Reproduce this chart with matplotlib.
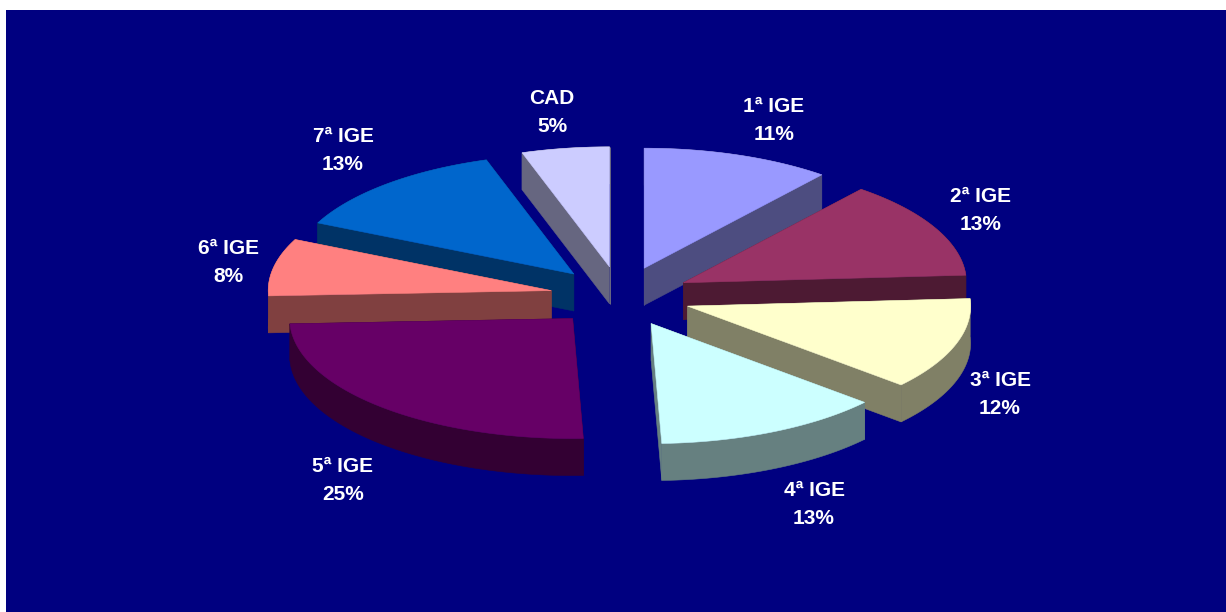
# -*- coding: utf-8 -*-
import numpy as np
import matplotlib
matplotlib.use("Agg")
import matplotlib.pyplot as plt
from matplotlib.patches import Polygon

# data
labels = ["1ª IGE", "2ª IGE", "3ª IGE", "4ª IGE", "5ª IGE", "6ª IGE", "7ª IGE", "CAD"]
values = [10.8, 13.2, 12.4, 13.0, 24.9, 7.7, 13.0, 5.0]
colors = ["#9999FF", "#993366", "#FFFFCC", "#CCFFFF", "#660066", "#FF8080", "#0066CC", "#CCCCFF"]
sides = ["#4D4D80", "#4D1A33", "#808066", "#668080", "#330033", "#804040", "#003366", "#666680"]

# layout, in pixels of the picture
W, H = 1226, 612
cx, cy = 620.6, 296.5
rx, ry = 283.0, 120.0
explode = 0.25
depth = 37.0
label_xy = [(774, 120), (981, 211), (1000, 395), (814, 504), (343, 481), (228, 262), (343, 151), (552, 113)]

fig = plt.figure(figsize=(W / 100, H / 100), dpi=100, facecolor="white")
ax = fig.add_axes([6 / W, 0, (W - 6) / W, (H - 10) / H])
ax.set_xlim(6, W)
ax.set_ylim(H, 10)
ax.set_facecolor("#000080")
ax.set_xticks([])
ax.set_yticks([])
for s in ax.spines.values():
    s.set_visible(False)

def extrude(px, py, color):
    # one side face, pushed down by the pie depth
    pts = np.r_[np.c_[px, py], np.c_[px[::-1], py[::-1] + depth]]
    ax.add_patch(Polygon(pts, closed=True, facecolor=color, edgecolor=color, linewidth=0.4))

# slices start at 12 o'clock and go clockwise
edges = np.cumsum([0] + values) / sum(values) * 2 * np.pi
slices = []
for i in range(len(values)):
    t = np.linspace(edges[i], edges[i + 1], 80)
    mid = (edges[i] + edges[i + 1]) / 2
    x0 = cx + explode * rx * np.sin(mid)
    y0 = cy - explode * ry * np.cos(mid)
    slices.append((y0, i, x0, x0 + rx * np.sin(t), y0 - ry * np.cos(t)))

# back to front
for y0, i, x0, x, y in sorted(slices, key=lambda q: q[0]):
    extrude(np.array([x0, x[0]]), np.array([y0, y[0]]), sides[i])
    extrude(np.array([x0, x[-1]]), np.array([y0, y[-1]]), sides[i])
    extrude(x, y, sides[i])
    ax.add_patch(Polygon(np.c_[np.r_[x0, x], np.r_[y0, y]], closed=True,
                         facecolor=colors[i], edgecolor=colors[i], linewidth=0.4))

for i in range(len(values)):
    ax.text(label_xy[i][0], label_xy[i][1], "%s\n%d%%" % (labels[i], round(values[i])),
            color="white", fontsize=15, fontweight="bold", family="Liberation Sans",
            ha="center", va="center", linespacing=1.6)

fig.savefig("out.png", dpi=100, facecolor="white")
